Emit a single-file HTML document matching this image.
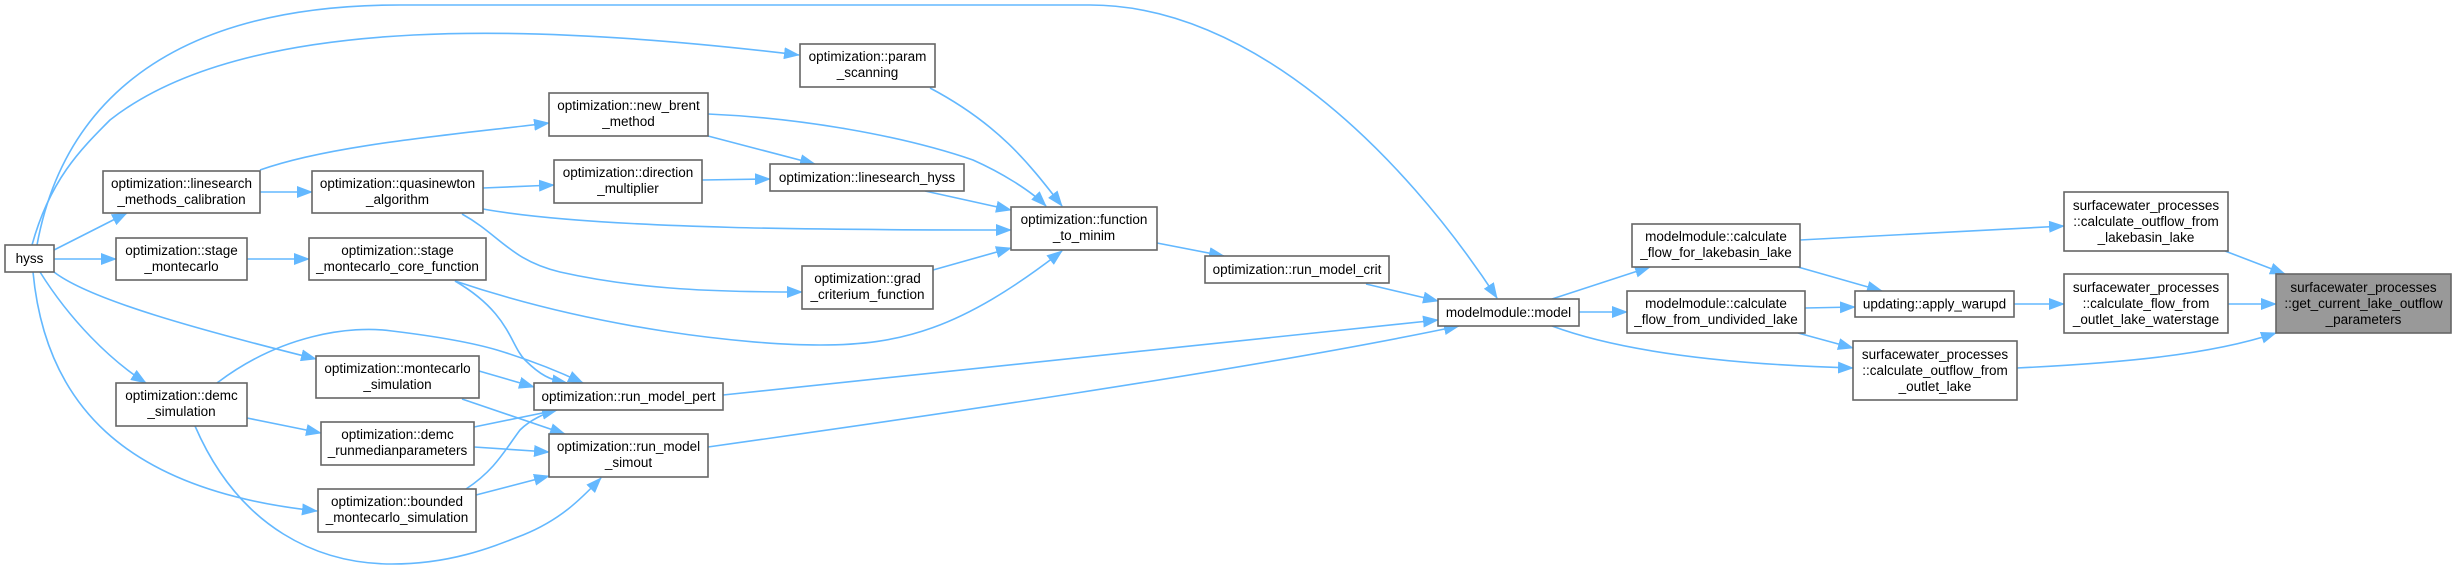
<!DOCTYPE html>
<html><head><meta charset="utf-8"><style>
html,body{margin:0;padding:0;background:#fff;}
svg{display:block;}
text{font-family:"Liberation Sans",sans-serif;font-size:13.5px;fill:#000;}
.e{fill:none;stroke:#63b8ff;stroke-width:1.6;marker-end:url(#a);}
.n{fill:#fff;stroke:#666;stroke-width:1.6;}
</style></head><body>
<svg width="2456" height="569" viewBox="0 0 2456 569" xmlns="http://www.w3.org/2000/svg">
<defs><marker id="a" markerUnits="userSpaceOnUse" markerWidth="16" markerHeight="12" refX="15" refY="6" orient="auto"><path d="M0,0 L16,6 L0,12 z" fill="#63b8ff"/></marker></defs>
<!-- edges -->
<path class="e" d="M37,245 C60,120 150,5 400,5 L1090,5 C1250,5 1400,150 1497,298"/>
<path class="e" d="M32,245 C50,180 80,150 110,120 C250,10 550,25 799,55"/>
<path class="e" d="M54,250 L127,213"/>
<path class="e" d="M54,259 L116,259"/>
<path class="e" d="M54,272 C90,300 200,330 316,359"/>
<path class="e" d="M40,272 C70,320 110,360 146,383"/>
<path class="e" d="M33,272 C45,400 120,490 317,511"/>
<path class="e" d="M260,192 L312,192"/>
<path class="e" d="M260,170 C330,145 450,135 549,123"/>
<path class="e" d="M483,188 L554,185"/>
<path class="e" d="M483,209 C600,230 850,230 1011,230"/>
<path class="e" d="M462,214 C500,235 510,260 560,272 C640,290 720,292 802,292"/>
<path class="e" d="M247,259 L309,259"/>
<path class="e" d="M455,281 C600,330 750,345 820,345 C900,345 960,330 1062,251"/>
<path class="e" d="M455,281 C510,313 510,345 525,360 C540,375 550,380 567,383"/>
<path class="e" d="M708,114 C800,118 900,135 973,160 C1000,172 1030,190 1046,206"/>
<path class="e" d="M708,136 L815,164"/>
<path class="e" d="M702,180 L770,179"/>
<path class="e" d="M930,88 C1000,125 1030,165 1062,206"/>
<path class="e" d="M925,191 L1011,210"/>
<path class="e" d="M933,270 L1011,248"/>
<path class="e" d="M1157,243 L1224,256"/>
<path class="e" d="M1366,284 L1438,301"/>
<path class="e" d="M723,395 L1438,320"/>
<path class="e" d="M708,447 C900,420 1250,370 1459,326"/>
<path class="e" d="M1552,299 L1650,267"/>
<path class="e" d="M1579,312 L1627,312"/>
<path class="e" d="M1552,326 C1630,355 1750,365 1853,368"/>
<path class="e" d="M1800,240 L2064,226"/>
<path class="e" d="M1798,267 L1882,291"/>
<path class="e" d="M1805,308 L1855,307"/>
<path class="e" d="M1798,333 L1853,348"/>
<path class="e" d="M2014,304 L2064,304"/>
<path class="e" d="M2225,251 L2285,274"/>
<path class="e" d="M2228,304 L2276,304"/>
<path class="e" d="M2017,368 C2120,363 2210,355 2276,333"/>
<path class="e" d="M247,418 L321,433"/>
<path class="e" d="M217,383 C280,335 350,325 392,331 C450,338 480,345 497,350 C530,360 560,372 583,383"/>
<path class="e" d="M195,426 C240,530 320,564 392,564 C450,564 490,548 523,535 C560,520 580,500 601,478"/>
<path class="e" d="M479,371 L534,387"/>
<path class="e" d="M462,399 L565,434"/>
<path class="e" d="M474,427 L557,410"/>
<path class="e" d="M474,447 L549,452"/>
<path class="e" d="M466,489 C495,470 505,450 520,430 C530,420 545,413 557,410"/>
<path class="e" d="M476,495 L549,476"/>
<!-- nodes -->
<rect class="n" x="5" y="245" width="49" height="27"/><text x="29.5" y="263" text-anchor="middle">hyss</text>
<rect class="n" x="103" y="171" width="157" height="42"/><text text-anchor="middle" x="181.5" y="188">optimization::linesearch</text><text text-anchor="middle" x="181.5" y="204">_methods_calibration</text>
<rect class="n" x="312" y="171" width="171" height="42"/><text text-anchor="middle" x="397.5" y="188">optimization::quasinewton</text><text text-anchor="middle" x="397.5" y="204">_algorithm</text>
<rect class="n" x="116" y="238" width="131" height="42"/><text text-anchor="middle" x="181.5" y="255">optimization::stage</text><text text-anchor="middle" x="181.5" y="271">_montecarlo</text>
<rect class="n" x="309" y="238" width="177" height="42"/><text text-anchor="middle" x="397.5" y="255">optimization::stage</text><text text-anchor="middle" x="397.5" y="271">_montecarlo_core_function</text>
<rect class="n" x="549" y="93" width="159" height="43"/><text text-anchor="middle" x="628.5" y="110">optimization::new_brent</text><text text-anchor="middle" x="628.5" y="126">_method</text>
<rect class="n" x="554" y="160" width="148" height="43"/><text text-anchor="middle" x="628" y="177">optimization::direction</text><text text-anchor="middle" x="628" y="193">_multiplier</text>
<rect class="n" x="800" y="44" width="135" height="43"/><text text-anchor="middle" x="867.5" y="61">optimization::param</text><text text-anchor="middle" x="867.5" y="77">_scanning</text>
<rect class="n" x="770" y="164" width="194" height="27"/><text text-anchor="middle" x="867" y="182">optimization::linesearch_hyss</text>
<rect class="n" x="1011" y="207" width="146" height="43"/><text text-anchor="middle" x="1084" y="224">optimization::function</text><text text-anchor="middle" x="1084" y="240">_to_minim</text>
<rect class="n" x="802" y="266" width="131" height="43"/><text text-anchor="middle" x="867.5" y="283">optimization::grad</text><text text-anchor="middle" x="867.5" y="299">_criterium_function</text>
<rect class="n" x="316" y="356" width="163" height="42"/><text text-anchor="middle" x="397.5" y="373">optimization::montecarlo</text><text text-anchor="middle" x="397.5" y="389">_simulation</text>
<rect class="n" x="116" y="383" width="131" height="43"/><text text-anchor="middle" x="181.5" y="400">optimization::demc</text><text text-anchor="middle" x="181.5" y="416">_simulation</text>
<rect class="n" x="321" y="422" width="153" height="43"/><text text-anchor="middle" x="397.5" y="439">optimization::demc</text><text text-anchor="middle" x="397.5" y="455">_runmedianparameters</text>
<rect class="n" x="318" y="489" width="158" height="43"/><text text-anchor="middle" x="397" y="506">optimization::bounded</text><text text-anchor="middle" x="397" y="522">_montecarlo_simulation</text>
<rect class="n" x="534" y="383" width="189" height="27"/><text text-anchor="middle" x="628.5" y="401">optimization::run_model_pert</text>
<rect class="n" x="549" y="434" width="159" height="43"/><text text-anchor="middle" x="628.5" y="451">optimization::run_model</text><text text-anchor="middle" x="628.5" y="467">_simout</text>
<rect class="n" x="1205" y="256" width="184" height="27"/><text text-anchor="middle" x="1297" y="274">optimization::run_model_crit</text>
<rect class="n" x="1438" y="299" width="141" height="27"/><text text-anchor="middle" x="1508.5" y="317">modelmodule::model</text>
<rect class="n" x="1632" y="224" width="168" height="43"/><text text-anchor="middle" x="1716" y="241">modelmodule::calculate</text><text text-anchor="middle" x="1716" y="257">_flow_for_lakebasin_lake</text>
<rect class="n" x="1627" y="291" width="178" height="42"/><text text-anchor="middle" x="1716" y="308">modelmodule::calculate</text><text text-anchor="middle" x="1716" y="324">_flow_from_undivided_lake</text>
<rect class="n" x="1855" y="291" width="159" height="26"/><text text-anchor="middle" x="1934.5" y="308.5">updating::apply_warupd</text>
<rect class="n" x="1853" y="341" width="164" height="59"/><text text-anchor="middle" x="1935" y="359">surfacewater_processes</text><text text-anchor="middle" x="1935" y="375">::calculate_outflow_from</text><text text-anchor="middle" x="1935" y="391">_outlet_lake</text>
<rect class="n" x="2064" y="192" width="164" height="59"/><text text-anchor="middle" x="2146" y="210">surfacewater_processes</text><text text-anchor="middle" x="2146" y="226">::calculate_outflow_from</text><text text-anchor="middle" x="2146" y="242">_lakebasin_lake</text>
<rect class="n" x="2064" y="274" width="164" height="59"/><text text-anchor="middle" x="2146" y="292">surfacewater_processes</text><text text-anchor="middle" x="2146" y="308">::calculate_flow_from</text><text text-anchor="middle" x="2146" y="324">_outlet_lake_waterstage</text>
<rect x="2276" y="274" width="175" height="59" fill="#999" stroke="#666" stroke-width="1.6"/><text text-anchor="middle" x="2363.5" y="292">surfacewater_processes</text><text text-anchor="middle" x="2363.5" y="308">::get_current_lake_outflow</text><text text-anchor="middle" x="2363.5" y="324">_parameters</text>
</svg>
</body></html>
